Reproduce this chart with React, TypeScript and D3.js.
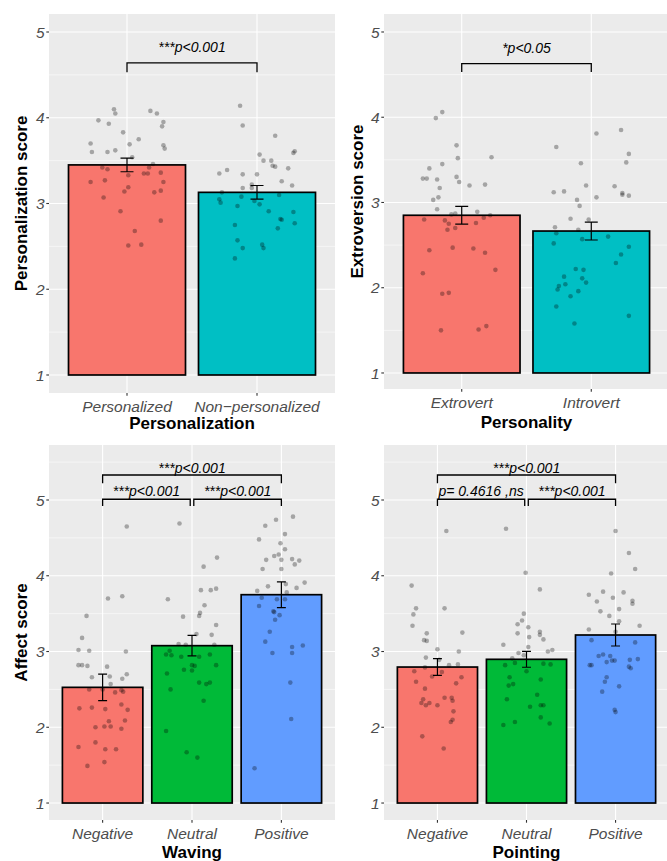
import React from "react";
import * as d3 from "d3";

// ---------- DATA ----------
const persCats = ["Personalized", "Non\u2212personalized"];
const persMeans = [3.45, 3.13];
const persSE = [0.08, 0.08];
const persP_Y = [4.10,4.05,3.97,3.93,4.08,4.05,3.95,3.90,3.83,3.75,3.70,3.69,3.68,3.64,3.60,3.60,3.62,3.54,3.46,3.42,3.40,3.42,3.33,3.35,3.35,3.36,3.25,3.27,3.25,3.19,3.14,3.13,3.15,3.07,2.91,2.80,2.68,2.51,2.52];
const persP_J = [-0.10,-0.09,-0.22,-0.14,0.18,0.23,0.28,0.27,-0.03,0.09,-0.28,0.02,0.28,0.29,-0.27,-0.15,-0.09,0.04,0.20,-0.19,-0.15,0.17,0.01,0.13,0.16,0.26,-0.28,-0.17,0.28,0.01,-0.02,0.21,0.26,-0.18,-0.05,0.26,0.06,0.01,0.11];
const persN_Y = [4.14,3.91,3.79,3.57,3.61,3.59,3.50,3.50,3.44,3.43,3.41,3.35,3.39,3.34,3.34,3.26,3.21,3.22,3.18,3.18,3.13,3.10,3.08,3.05,3.01,3.03,2.99,2.97,2.91,2.90,2.82,2.81,2.77,2.71,2.75,2.57,2.48,2.52,2.48,2.36];
const persN_J = [-0.13,-0.11,0.14,0.02,0.29,0.28,0.05,0.11,0.12,0.14,0.24,-0.29,-0.23,-0.11,0.00,0.19,0.27,-0.04,-0.11,-0.04,-0.27,0.17,-0.12,-0.29,-0.28,-0.02,0.02,-0.15,0.09,0.28,0.18,0.19,0.29,0.16,-0.17,-0.15,-0.11,0.04,0.05,-0.17];

const extCats = ["Extrovert", "Introvert"];
const extMeans = [2.85, 2.665];
const extSE = [0.105, 0.105];
const extE_Y = [3.99,4.06,3.67,3.52,3.53,3.45,3.40,3.28,3.28,3.27,3.30,3.24,3.17,3.20,3.21,3.06,3.03,2.92,2.86,2.87,2.89,2.80,2.79,2.75,2.68,2.70,2.76,2.82,2.85,2.44,2.47,2.46,2.41,2.17,2.21,1.93,1.94,1.50,1.51,1.55];
const extE_J = [-0.20,-0.15,-0.04,-0.03,0.23,-0.15,-0.25,-0.30,-0.27,-0.19,-0.04,-0.02,-0.17,0.06,0.18,-0.18,-0.22,-0.19,-0.08,-0.05,0.12,-0.29,-0.13,-0.10,-0.11,-0.05,0.11,0.17,0.22,-0.25,-0.07,0.09,0.18,-0.30,0.26,-0.15,-0.10,-0.16,0.13,0.19];
const extI_Y = [3.81,3.85,3.65,3.57,3.47,3.46,3.12,3.13,3.20,3.19,3.11,3.09,3.08,3.06,3.03,2.96,2.81,2.80,2.71,2.64,2.68,2.57,2.60,2.52,2.48,2.39,2.29,2.22,2.21,2.13,2.11,2.06,2.04,2.02,1.98,1.96,1.90,1.78,1.58,1.67];
const extI_J = [0.04,0.23,-0.27,0.29,0.27,-0.08,-0.29,-0.21,-0.04,0.18,0.24,0.24,0.29,0.04,-0.11,-0.09,-0.16,-0.02,-0.28,-0.27,-0.10,-0.07,0.13,-0.29,0.29,0.23,0.19,-0.12,-0.06,-0.21,-0.07,-0.04,-0.20,-0.25,-0.26,-0.10,-0.16,-0.27,-0.13,0.29];

const affCats = ["Negative", "Neutral", "Positive"];
const wavMeans = [2.527, 3.077, 3.75];
const wavSE = [0.175, 0.135, 0.17];
const wavNeg_Y = [4.65,3.70,3.73,3.47,3.18,3.02,3.01,3.00,2.82,2.82,2.81,2.80,2.66,2.67,2.70,2.64,2.57,2.50,2.50,2.46,2.47,2.49,2.25,2.26,2.24,2.30,2.23,2.08,2.09,2.00,2.01,2.01,1.98,1.74,1.80,1.71,1.71,1.49,1.54];
const wavNeg_J = [0.27,0.06,0.22,-0.18,-0.23,-0.27,-0.15,0.26,-0.27,-0.23,-0.17,0.05,-0.12,0.08,0.27,0.22,0.09,-0.15,0.00,0.14,0.23,0.21,-0.26,-0.12,0.03,0.21,0.28,0.07,0.25,-0.08,0.02,0.09,0.21,-0.27,-0.08,0.03,0.15,-0.17,0.02];
const wavNeu_Y = [4.69,4.24,4.12,3.81,3.81,3.83,3.69,3.61,3.51,3.47,3.46,3.35,3.23,3.22,3.10,3.09,3.09,3.01,2.96,2.95,2.93,2.93,2.96,2.82,2.81,2.82,2.76,2.75,2.71,2.59,2.57,2.59,2.50,2.35,1.95,1.67,1.60];
const wavNeu_J = [-0.14,0.28,0.13,0.10,0.21,0.27,-0.27,0.14,0.09,0.08,-0.10,0.27,0.05,0.22,-0.15,-0.07,0.25,-0.25,-0.29,-0.23,-0.12,0.08,0.20,0.00,0.03,0.27,-0.09,0.00,-0.28,0.08,0.16,0.20,-0.24,0.13,-0.29,-0.06,0.06];
const wavPos_Y = [4.78,4.74,4.66,4.55,4.48,4.43,4.35,4.26,4.28,4.21,4.21,4.22,4.20,4.15,4.09,4.09,3.91,3.86,3.89,3.84,3.80,3.78,3.71,3.69,3.69,3.60,3.53,3.52,3.48,3.42,3.26,3.13,3.06,3.08,2.98,2.98,2.59,2.11,1.46];
const wavPos_J = [0.13,-0.06,-0.18,0.04,-0.25,-0.01,0.04,-0.08,-0.03,0.00,-0.17,0.12,0.20,0.15,-0.21,0.00,0.26,-0.15,0.05,0.17,-0.27,0.06,-0.22,-0.05,0.04,-0.25,-0.09,-0.08,-0.02,-0.07,-0.13,-0.18,0.12,0.24,-0.10,0.12,0.10,0.11,-0.30];

const ptMeans = [2.795, 2.897, 3.218];
const ptSE = [0.11, 0.105, 0.145];
const ptNeg_Y = [4.59,3.87,3.57,3.57,3.49,3.34,3.24,3.25,3.15,3.14,3.03,3.00,2.92,2.89,2.82,2.83,2.79,2.73,2.74,2.67,2.66,2.60,2.58,2.51,2.39,2.39,2.37,2.35,2.32,2.32,2.29,2.29,2.21,2.10,2.07,1.88,1.72];
const ptNeg_J = [0.10,-0.29,-0.24,0.08,-0.27,-0.28,-0.12,0.28,-0.15,-0.12,0.00,0.24,-0.13,0.02,0.13,0.23,-0.14,0.05,-0.26,-0.06,0.27,-0.24,0.21,-0.14,0.08,0.16,-0.16,0.17,-0.18,-0.09,-0.13,0.00,0.18,0.17,0.15,-0.17,0.07];
const ptNeu_Y = [4.62,4.04,3.82,3.50,3.41,3.36,3.32,3.24,3.19,3.26,3.22,3.16,3.09,3.06,3.02,3.00,2.98,2.95,2.91,2.85,2.82,2.84,2.83,2.74,2.66,2.63,2.55,2.57,2.43,2.37,2.27,2.29,2.29,2.13,2.07,2.03,2.05];
const ptNeu_J = [-0.23,-0.01,0.15,-0.03,-0.05,-0.10,0.02,-0.10,0.03,0.15,0.15,0.19,-0.26,0.02,0.29,0.24,-0.09,-0.03,-0.16,-0.13,-0.24,0.19,0.27,0.00,-0.19,0.16,-0.20,-0.15,0.12,-0.22,0.04,0.16,0.19,0.16,-0.13,-0.26,0.26];
const ptPos_Y = [4.59,4.30,4.09,4.03,3.75,3.79,3.78,3.66,3.71,3.67,3.63,3.53,3.56,3.47,3.40,3.34,3.29,3.26,3.15,3.12,2.94,2.96,2.94,2.86,2.88,2.88,2.89,2.90,2.82,2.82,2.80,2.78,2.66,2.60,2.54,2.47,2.23,2.20];
const ptPos_J = [0.00,0.15,0.22,-0.05,-0.30,-0.14,0.09,-0.21,-0.03,0.19,0.19,-0.17,0.04,-0.07,0.04,0.27,-0.30,0.00,-0.27,0.22,-0.19,-0.14,-0.06,-0.10,-0.04,-0.01,0.16,0.25,-0.29,-0.27,0.15,0.17,-0.10,-0.12,0.04,-0.15,-0.01,0.00];

const yTicks = [1, 2, 3, 4, 5];
const twoColors = ["#F8766D", "#00BFC4"];
const threeColors = ["#F8766D", "#00BA38", "#619CFF"];

// ---------- RENDER ----------
const FONT = "'Liberation Sans', Arial, Helvetica, sans-serif";

type Bracket = { a: number; b: number; offA: number; offB: number; y: number; tip: number; label: string; gap: number };
type Cfg = {
  left: number; right: number; top: number; bottom: number;
  yDomain: [number, number];
  cats: string[]; means: number[]; ses: number[]; colors: string[];
  groups: { y: number[]; j: number[] }[];
  brackets: Bracket[];
  yTitle?: string; yTitleX: number; xTitle: string; xTitleY: number;
};

function Panel({ cfg }: { cfg: Cfg }) {
  const { left, right, top, bottom, yDomain, cats, means, ses, colors, groups, brackets } = cfg;
  const x = d3.scalePoint<string>().domain(cats).range([left, right]).padding(0.6);
  const step = x.step();
  const y = d3.scaleLinear().domain(yDomain).range([bottom, top]);
  const minors = d3.range(Math.ceil(yDomain[0] * 2) / 2, yDomain[1], 0.5).filter((v) => Math.abs(v - Math.round(v)) > 0.01);
  const barW = 0.9 * step;
  const capW = 0.1 * step;
  return (
    <g>
      <rect x={left} y={top} width={right - left} height={bottom - top} fill="#EBEBEB" />
      {minors.map((v) => (
        <line key={"mi" + v} x1={left} x2={right} y1={y(v)} y2={y(v)} stroke="#fff" strokeWidth={0.55} />
      ))}
      {yTicks.map((v) => (
        <line key={"ma" + v} x1={left} x2={right} y1={y(v)} y2={y(v)} stroke="#fff" strokeWidth={1.1} />
      ))}
      {cats.map((c) => (
        <line key={"vx" + c} x1={x(c)} x2={x(c)} y1={top} y2={bottom} stroke="#fff" strokeWidth={1.1} />
      ))}
      {cats.map((c, i) => (
        <rect key={"bar" + c} x={x(c)! - barW / 2} y={y(means[i])} width={barW} height={y(1) - y(means[i])}
          fill={colors[i]} stroke="#000" strokeWidth={1.7} />
      ))}
      {groups.map((g, gi) =>
        g.y.map((v, k) => (
          <circle key={"pt" + gi + "_" + k} cx={x(cats[gi])! + g.j[k] * step} cy={y(v)} r={2.3} fill="#000" fillOpacity={0.3} />
        ))
      )}
      {cats.map((c, i) => {
        const cx = x(c)!;
        const y1 = y(means[i] + ses[i]);
        const y2 = y(means[i] - ses[i]);
        return (
          <path key={"eb" + c}
            d={`M${cx - capW / 2},${y1}H${cx + capW / 2}M${cx},${y1}V${y2}M${cx - capW / 2},${y2}H${cx + capW / 2}`}
            stroke="#000" strokeWidth={1.2} fill="none" />
        );
      })}
      {brackets.map((b, i) => {
        const x1 = x(cats[b.a])! + b.offA * step;
        const x2 = x(cats[b.b])! + b.offB * step;
        return (
          <g key={"br" + i}>
            <path d={`M${x1},${y(b.tip)}V${y(b.y)}H${x2}V${y(b.tip)}`} stroke="#000" strokeWidth={1.3} fill="none" />
            <text x={(x1 + x2) / 2} y={y(b.y) - b.gap} textAnchor="middle" fontFamily={FONT} fontStyle="italic" fontSize={14} fill="#000">
              {b.label}
            </text>
          </g>
        );
      })}
      {yTicks.map((v) => (
        <g key={"yt" + v}>
          <line x1={left - 2.7} x2={left} y1={y(v)} y2={y(v)} stroke="#333" strokeWidth={1.1} />
          <text x={left - 4.5} y={y(v)} dy="0.36em" textAnchor="end" fontFamily={FONT} fontStyle="italic" fontSize={15.5} fill="#4D4D4D">
            {v}
          </text>
        </g>
      ))}
      {cats.map((c) => (
        <g key={"xt" + c}>
          <line x1={x(c)} x2={x(c)} y1={bottom} y2={bottom + 2.7} stroke="#333" strokeWidth={1.1} />
          <text x={x(c)} y={bottom + 18.5} textAnchor="middle" fontFamily={FONT} fontStyle="italic" fontSize={15.5} fill="#4D4D4D">
            {c}
          </text>
        </g>
      ))}
      <text x={(left + right) / 2} y={cfg.xTitleY} textAnchor="middle" fontFamily={FONT} fontWeight="bold" fontSize={17} fill="#000">
        {cfg.xTitle}
      </text>
      {cfg.yTitle && (
        <text transform={`translate(${cfg.yTitleX},${(top + bottom) / 2}) rotate(-90)`} textAnchor="middle" fontFamily={FONT}
          fontWeight="bold" fontSize={17} fill="#000">
          {cfg.yTitle}
        </text>
      )}
    </g>
  );
}

export default function App() {
  const panels: Cfg[] = [
    {
      left: 49, right: 335, top: 14, bottom: 393, yDomain: [0.79, 5.21],
      cats: persCats, means: persMeans, ses: persSE, colors: twoColors,
      groups: [{ y: persP_Y, j: persP_J }, { y: persN_Y, j: persN_J }],
      brackets: [{ a: 0, b: 1, offA: 0, offB: 0, y: 4.64, tip: 4.53, label: "***p<0.001", gap: 11 }],
      yTitle: "Personalization score", yTitleX: 27, xTitle: "Personalization", xTitleY: 429,
    },
    {
      left: 384, right: 669, top: 14, bottom: 389, yDomain: [0.812, 5.211],
      cats: extCats, means: extMeans, ses: extSE, colors: twoColors,
      groups: [{ y: extE_Y, j: extE_J }, { y: extI_Y, j: extI_J }],
      brackets: [{ a: 0, b: 1, offA: 0, offB: 0, y: 4.63, tip: 4.53, label: "*p<0.05", gap: 11 }],
      yTitle: "Extroversion score", yTitleX: 362.5, xTitle: "Personality", xTitleY: 428,
    },
    {
      left: 49, right: 335, top: 445, bottom: 820, yDomain: [0.776, 5.726],
      cats: affCats, means: wavMeans, ses: wavSE, colors: threeColors,
      groups: [{ y: wavNeg_Y, j: wavNeg_J }, { y: wavNeu_Y, j: wavNeu_J }, { y: wavPos_Y, j: wavPos_J }],
      brackets: [
        { a: 0, b: 1, offA: 0, offB: -0.02, y: 5.01, tip: 4.92, label: "***p<0.001", gap: 3 },
        { a: 1, b: 2, offA: 0.02, offB: 0, y: 5.01, tip: 4.92, label: "***p<0.001", gap: 3 },
        { a: 0, b: 2, offA: 0, offB: 0, y: 5.33, tip: 5.22, label: "***p<0.001", gap: 2.5 },
      ],
      yTitle: "Affect score", yTitleX: 27, xTitle: "Waving", xTitleY: 858,
    },
    {
      left: 384, right: 669, top: 445, bottom: 820, yDomain: [0.776, 5.726],
      cats: affCats, means: ptMeans, ses: ptSE, colors: threeColors,
      groups: [{ y: ptNeg_Y, j: ptNeg_J }, { y: ptNeu_Y, j: ptNeu_J }, { y: ptPos_Y, j: ptPos_J }],
      brackets: [
        { a: 0, b: 1, offA: 0, offB: -0.02, y: 5.01, tip: 4.92, label: "p= 0.4616 ,ns", gap: 3 },
        { a: 1, b: 2, offA: 0.02, offB: 0, y: 5.01, tip: 4.92, label: "***p<0.001", gap: 3 },
        { a: 0, b: 2, offA: 0, offB: 0, y: 5.33, tip: 5.22, label: "***p<0.001", gap: 2.5 },
      ],
      xTitle: "Pointing", yTitleX: 362.5, xTitleY: 858,
    },
  ];
  return (
    <svg width={667} height={861} style={{ position: "absolute", left: 0, top: 0, background: "#fff" }}>
      <rect x={0} y={0} width={667} height={861} fill="#fff" />
      {panels.map((p, i) => (
        <Panel key={i} cfg={p} />
      ))}
    </svg>
  );
}
